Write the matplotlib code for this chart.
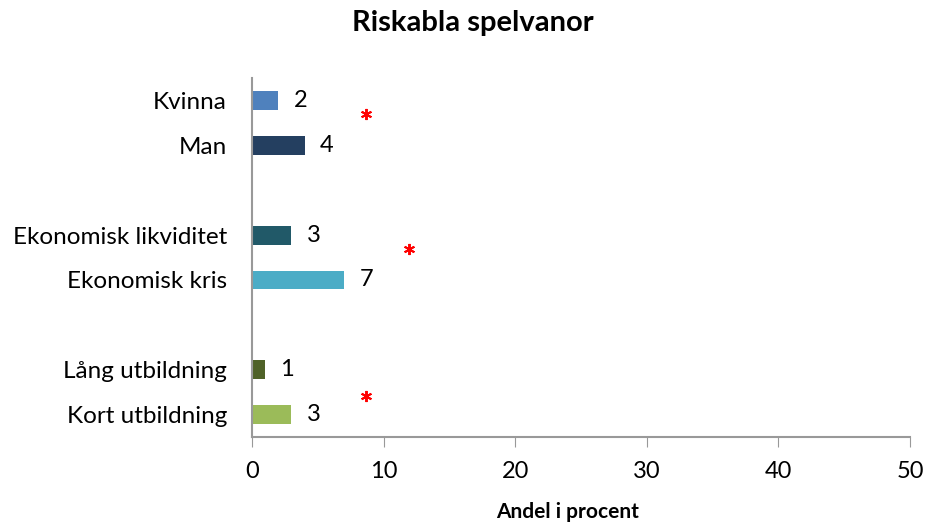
import matplotlib.pyplot as plt
import numpy as np

plt.rcParams['font.family'] = ['Lato', 'DejaVu Sans']

# kategorier uppifrån och ned (None = tom rad mellan grupperna)
kategorier = ['Kvinna', 'Man', None, 'Ekonomisk likviditet', 'Ekonomisk kris', None,
              'Lång utbildning', 'Kort utbildning']
andel = [2, 4, None, 3, 7, None, 1, 3]
farger = ['#4F81BD', '#243F60', None, '#215968', '#4BACC6', None, '#4F6228', '#9BBB59']

# signifikansmarkeringar (x-värde, radposition)
stjarna_x = [8.7, 11.9, 8.7]
stjarna_y = [0.29, 3.31, 6.58]

fig = plt.figure(figsize=(9.26, 5.24), dpi=100)
ax = fig.add_axes([0.2721, 0.166, 0.7106, 0.685])

pos = [i for i, v in enumerate(andel) if v is not None]
vals = [andel[i] for i in pos]
cols = [farger[i] for i in pos]
ax.barh(pos, vals, height=0.42, color=cols)

for p, v in zip(pos, vals):
    ax.annotate(str(v), (v, p), xytext=(11, 0), textcoords='offset points',
                va='center', ha='left', fontsize=17)

ax.plot(stjarna_x, stjarna_y, linestyle='none', marker=(6, 2, 0), color='red',
        markersize=8, markeredgewidth=1.4)

ax.set_xlim(0, 50)
ax.set_ylim(7.5, -0.5)
ax.set_yticks(pos)
ax.set_yticklabels([kategorier[i] for i in pos], fontsize=17.5)
ax.tick_params(axis='y', length=0, pad=18)
ax.set_xticks(np.arange(0, 51, 10))
ax.tick_params(axis='x', labelsize=17, length=7, color='#999999', pad=10)

for s in ['top', 'right']:
    ax.spines[s].set_visible(False)
ax.spines['left'].set_color('#999999')
ax.spines['bottom'].set_color('#999999')
ax.spines['left'].set_linewidth(1.5)
ax.spines['bottom'].set_linewidth(1.5)

ax.set_xlabel('Andel i procent', fontsize=15, fontweight='bold')
ax.xaxis.set_label_coords(0.48, -0.182)
fig.suptitle('Riskabla spelvanor', fontsize=21, fontweight='bold', x=0.511, y=0.98)

fig.savefig('out.png', dpi=100)
